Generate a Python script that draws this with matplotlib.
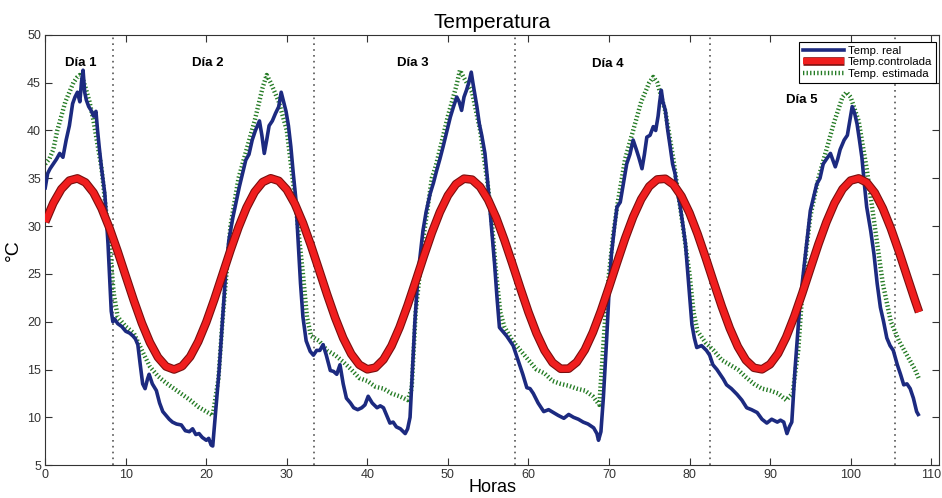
import matplotlib.pyplot as plt
import matplotlib.patheffects as pe

plt.rcParams["font.family"] = ["Liberation Sans", "DejaVu Sans"]

# temperatura controlada (cada hora)
ctrl_x = list(range(0, 109)) + [108.5]
ctrl_y = [30.43, 32.40, 33.87, 34.76, 34.99, 34.56, 33.49, 31.85, 29.75, 27.34,
          24.77, 22.22, 19.85, 17.83, 16.28, 15.32, 15.00, 15.35, 16.34, 17.92,
          19.96, 22.34, 24.90, 27.47, 29.87, 31.94, 33.56, 34.60, 35.00, 34.73,
          33.81, 32.31, 30.32, 27.97, 25.42, 22.85, 20.42, 18.29, 16.62, 15.50,
          15.02, 15.20, 16.04, 17.47, 19.41, 21.72, 24.25, 26.83, 29.29, 31.46,
          33.20, 34.39, 34.96, 34.86, 34.10, 32.74, 30.86, 28.58, 26.07, 23.49,
          21.00, 18.79, 16.99, 15.72, 15.08, 15.09, 15.77, 17.06, 18.89, 21.12,
          23.61, 26.19, 28.70, 30.96, 32.81, 34.15, 34.88, 34.95, 34.35, 33.13,
          31.37, 29.18, 26.71, 24.13, 21.61, 19.31, 17.39, 15.98, 15.18, 15.02,
          15.54, 16.68, 18.38, 20.53, 22.97, 25.54, 28.09, 30.42, 32.39, 33.87,
          34.76, 34.99, 34.56, 33.49, 31.85, 29.76, 27.35, 24.78, 22.23, 21.01]

# temperatura real
real_x = [0, 0.3, 0.6, 1.0, 1.4, 1.8, 2.2, 2.6, 3.0, 3.4, 3.7, 4.0, 4.3, 4.5, 4.7, 4.9,
          5.1, 5.4, 5.7, 6.0, 6.3, 6.5, 6.7, 7.0, 7.4, 7.8, 8.0, 8.2, 8.4, 8.6, 9.0, 9.5,
          10.0, 10.5, 10.9, 11.2, 11.5, 11.8, 12.1, 12.4, 12.7, 12.9, 13.3, 13.8, 14.2,
          14.6, 15.0, 15.4, 15.8, 16.3, 16.9, 17.4, 17.9, 18.3, 18.7, 19.1, 19.5, 20.0,
          20.3, 20.6, 20.8, 21.0, 21.3, 21.6, 22.0, 22.4, 22.8, 23.3, 23.7, 24.1, 24.5,
          24.9, 25.3, 25.7, 26.1, 26.6, 26.9, 27.2, 27.5, 27.8, 28.2, 28.6, 29.0, 29.3,
          29.6, 29.9, 30.2, 30.5, 30.8, 31.1, 31.4, 31.7, 32.0, 32.4, 32.9, 33.3, 33.7,
          34.1, 34.5, 34.9, 35.4, 35.8, 36.2, 36.6, 37.0, 37.4, 37.9, 38.3, 38.8, 39.3,
          39.7, 40.1, 40.6, 41.2, 41.6, 42.0, 42.4, 42.8, 43.2, 43.6, 44.1, 44.7, 45.0,
          45.3, 45.6, 45.9, 46.3, 46.9, 47.3, 47.8, 48.2, 48.6, 49.0, 49.4, 49.9, 50.3,
          50.7, 51.1, 51.4, 51.7, 52.0, 52.3, 52.6, 52.9, 53.1, 53.3, 53.6, 53.9, 54.2,
          54.6, 54.9, 55.2, 55.5, 55.8, 56.1, 56.4, 56.8, 57.3, 57.7, 58.1, 58.5, 58.9,
          59.3, 59.8, 60.2, 60.6, 61.2, 61.9, 62.5, 63.1, 63.7, 64.4, 65.0, 65.6, 66.2,
          66.8, 67.4, 68.1, 68.5, 68.7, 69.0, 69.3, 69.7, 70.0, 70.3, 70.7, 71.0, 71.4,
          72.2, 72.6, 73.0, 73.4, 73.7, 74.1, 74.4, 74.7, 75.1, 75.5, 75.8, 76.1, 76.3,
          76.5, 76.7, 77.0, 77.3, 77.6, 77.9, 78.2, 78.5, 78.8, 79.2, 79.5, 79.9, 80.3,
          80.6, 80.9, 81.5, 82.1, 82.5, 82.9, 83.4, 83.8, 84.2, 84.6, 85.2, 85.9, 86.5,
          87.1, 87.7, 88.4, 89.0, 89.6, 90.2, 90.9, 91.3, 91.7, 92.1, 92.4, 92.7, 93.1,
          93.7, 94.4, 95.0, 95.4, 95.8, 96.2, 96.6, 97.0, 97.5, 98.1, 98.4, 98.7, 99.2,
          99.6, 99.9, 100.2, 100.5, 100.8, 101.1, 101.4, 101.7, 102.0, 102.5, 102.9,
          103.3, 103.7, 104.1, 104.5, 104.9, 105.3, 105.8, 106.2, 106.6, 107.0, 107.4,
          107.8, 108.2, 108.4]
real_y = [34.0, 35.5, 36.0, 36.5, 37.0, 37.6, 37.2, 39.0, 40.5, 42.8, 43.5, 44.0, 43.0,
          45.0, 46.3, 44.0, 43.2, 42.5, 42.1, 41.5, 42.0, 40.0, 38.3, 36.0, 33.4, 28.1,
          24.5, 21.1, 20.0, 20.3, 19.8, 19.5, 19.0, 18.8, 18.5, 18.2, 17.6, 15.5, 13.5,
          13.0, 14.0, 14.5, 13.5, 12.8, 11.5, 10.6, 10.2, 9.8, 9.5, 9.3, 9.2, 8.6, 8.5,
          8.8, 8.2, 8.3, 7.9, 7.6, 7.8, 7.1, 7.0, 9.0, 12.0, 15.0, 20.0, 25.0, 28.5, 30.9,
          32.5, 34.1, 35.5, 36.9, 37.5, 39.0, 40.0, 41.0, 39.5, 37.6, 39.0, 40.5, 41.0,
          41.8, 42.5, 44.0, 43.0, 42.0, 40.5, 38.3, 35.5, 33.0, 28.5, 24.0, 20.5, 18.0,
          16.9, 16.5, 17.0, 17.0, 17.6, 16.5, 14.9, 14.8, 14.5, 15.5, 13.5, 12.0, 11.5,
          11.0, 10.8, 11.0, 11.3, 12.2, 11.5, 11.0, 11.2, 11.0, 10.2, 9.4, 9.5, 9.0, 8.8,
          8.3, 8.8, 10.0, 15.0, 20.0, 25.0, 29.5, 31.5, 33.4, 34.5, 35.8, 37.0, 38.3,
          40.0, 41.4, 42.5, 43.5, 43.0, 42.1, 43.5, 44.2, 45.0, 46.1, 45.0, 44.0, 42.5,
          40.7, 39.5, 37.6, 35.0, 32.0, 29.0, 26.0, 22.5, 19.4, 19.0, 18.5, 18.0, 17.5,
          16.5, 15.5, 14.5, 13.1, 13.0, 12.5, 11.5, 10.6, 10.8, 10.5, 10.2, 9.9, 10.3,
          10.0, 9.8, 9.5, 9.3, 8.9, 8.3, 7.6, 8.5, 12.0, 18.0, 23.0, 27.0, 30.0, 32.0,
          32.5, 36.5, 37.5, 39.0, 38.0, 37.2, 36.0, 37.5, 39.3, 39.5, 40.4, 40.0, 41.5,
          43.0, 44.2, 43.0, 42.1, 40.0, 38.3, 36.5, 35.5, 33.5, 32.3, 30.0, 28.1, 23.9,
          19.7, 18.3, 17.3, 17.5, 17.0, 16.5, 15.5, 15.0, 14.5, 14.0, 13.4, 13.0, 12.4,
          11.8, 11.0, 10.8, 10.5, 9.8, 9.4, 9.8, 9.5, 9.7, 9.5, 8.3, 9.0, 9.5, 15.0, 21.8,
          27.1, 31.6, 33.0, 34.4, 35.0, 36.5, 37.0, 37.6, 36.2, 37.0, 38.0, 39.0, 39.5,
          41.0, 42.5, 41.8, 40.7, 39.0, 37.2, 34.5, 32.0, 29.5, 27.1, 24.0, 21.5, 20.0,
          18.3, 17.5, 17.0, 15.5, 14.5, 13.4, 13.5, 13.0, 12.0, 10.6, 10.3]

# temperatura estimada
est_x = [0, 0.5, 1.0, 1.5, 2.0, 2.5, 3.0, 3.5, 4.0, 4.3, 4.7, 5.0, 5.5, 6.0, 6.5, 7.0,
         7.5, 8.0, 8.5, 9.0, 10.0, 11.0, 12.0, 13.0, 14.0, 15.0, 16.0, 17.0, 18.0, 19.0,
         20.0, 20.8, 21.5, 22.0, 22.5, 23.0, 23.5, 24.0, 25.0, 26.0, 27.0, 27.5, 28.0,
         29.0, 30.0, 31.0, 32.0, 32.5, 33.0, 34.0, 35.0, 36.0, 37.0, 38.0, 39.0, 40.0,
         41.0, 42.0, 43.0, 44.0, 45.0, 45.5, 46.0, 46.5, 47.0, 47.5, 48.0, 48.5, 49.0,
         50.0, 51.0, 51.5, 52.0, 53.0, 54.0, 55.0, 55.5, 56.0, 56.5, 57.0, 58.0, 59.0,
         60.0, 61.0, 62.0, 63.0, 64.0, 65.0, 66.0, 67.0, 68.0, 68.8, 69.5, 70.0, 70.5,
         71.0, 72.0, 73.0, 74.0, 75.0, 75.5, 76.0, 77.0, 78.0, 79.0, 80.0, 80.5, 81.0,
         82.0, 83.0, 84.0, 85.0, 86.0, 87.0, 88.0, 89.0, 90.0, 91.0, 92.0, 92.8, 93.5,
         94.0, 94.5, 95.0, 96.0, 97.0, 98.0, 99.0, 99.5, 100.0, 101.0, 102.0, 103.0,
         104.0, 105.0, 106.0, 107.0, 108.0, 108.5]
est_y = [36.5, 37.0, 38.0, 40.0, 41.5, 43.0, 44.0, 45.0, 45.6, 45.8, 45.3, 44.5, 43.0,
         41.0, 38.5, 36.0, 32.0, 28.0, 23.0, 20.5, 19.5, 18.8, 17.0, 15.3, 14.3, 13.6,
         13.0, 12.4, 11.8, 11.1, 10.6, 10.2, 14.0, 20.0, 25.0, 30.0, 32.5, 35.0, 38.0,
         41.0, 44.5, 45.8, 45.0, 43.0, 40.0, 33.0, 25.0, 20.5, 18.5, 18.0, 17.0, 16.5,
         15.8, 15.0, 14.1, 13.8, 13.2, 13.0, 12.5, 12.2, 11.8, 13.0, 21.0, 25.0, 29.0,
         32.0, 35.0, 36.3, 38.0, 41.5, 44.5, 46.3, 45.5, 44.0, 40.0, 34.0, 30.0, 25.0,
         21.0, 19.5, 18.0, 17.0, 16.0, 15.0, 14.6, 13.8, 13.5, 13.3, 13.0, 12.8, 12.2,
         11.3, 20.0, 25.0, 29.0, 32.0, 37.0, 40.0, 43.0, 45.0, 45.6, 45.0, 42.0, 37.0,
         31.0, 25.0, 21.0, 19.0, 17.8, 17.0, 16.0, 15.5, 15.0, 14.2, 13.5, 13.0, 12.8,
         12.5, 11.8, 12.5, 17.0, 23.0, 27.5, 31.0, 35.0, 38.0, 41.0, 43.5, 44.0, 43.5,
         41.0, 36.0, 30.0, 24.0, 20.0, 18.0, 16.5, 15.0, 14.0]

day_lines = [8.4, 33.4, 58.3, 82.6, 105.5]
day_labels = ["Día 1", "Día 2", "Día 3", "Día 4", "Día 5"]
label_x = [4.4, 20.2, 45.7, 69.9, 93.9]
label_y = [47.1, 47.1, 47.1, 47.0, 43.2]

fig = plt.figure(figsize=(9.42, 4.98), dpi=100)
ax = fig.add_axes([0.048, 0.066, 0.949, 0.864])

ax.plot(est_x, est_y, color="#237a23", lw=3.2, dashes=(0.3, 0.5),
        dash_capstyle="butt", label="Temp. estimada", zorder=2)
ax.plot(real_x, real_y, color="#1c2a80", lw=2.6, label="Temp. real", zorder=3)
ax.plot(ctrl_x, ctrl_y, color="#f01e1e", lw=4.6, solid_capstyle="butt",
        label="Temp.controlada", zorder=4,
        path_effects=[pe.Stroke(linewidth=6.2, foreground="#7a0e0e"), pe.Normal()])

for xv in day_lines:
    ax.axvline(xv, color="#555555", lw=1.2, ls=(0, (1, 2.5)), zorder=1)

for lx, ly, txt in zip(label_x, label_y, day_labels):
    ax.text(lx, ly, txt, ha="center", va="center", fontsize=9.5, fontweight="bold")

ax.set_xlim(0, 111)
ax.set_ylim(5, 50)
ax.set_xticks(range(0, 111, 10))
ax.set_yticks(range(5, 51, 5))
ax.tick_params(direction="in", top=True, right=True, length=5, labelsize=9,
               colors="#333333", pad=3)
for s in ax.spines.values():
    s.set_color("#333333")

ax.set_title("Temperatura", fontsize=15, pad=5)
ax.set_xlabel("Horas", fontsize=13, labelpad=-2)
ax.set_ylabel("°C", fontsize=14, labelpad=4)

h, l = ax.get_legend_handles_labels()
order = [1, 2, 0]
leg = ax.legend([h[i] for i in order], [l[i] for i in order], loc="upper right",
                bbox_to_anchor=(0.997, 0.984), borderaxespad=0, fontsize=8.2,
                handlelength=3.6, labelspacing=0.15, borderpad=0.35,
                handletextpad=0.4, fancybox=False, framealpha=1, edgecolor="black")
leg.get_frame().set_linewidth(0.8)

fig.savefig("out.png", dpi=100)
